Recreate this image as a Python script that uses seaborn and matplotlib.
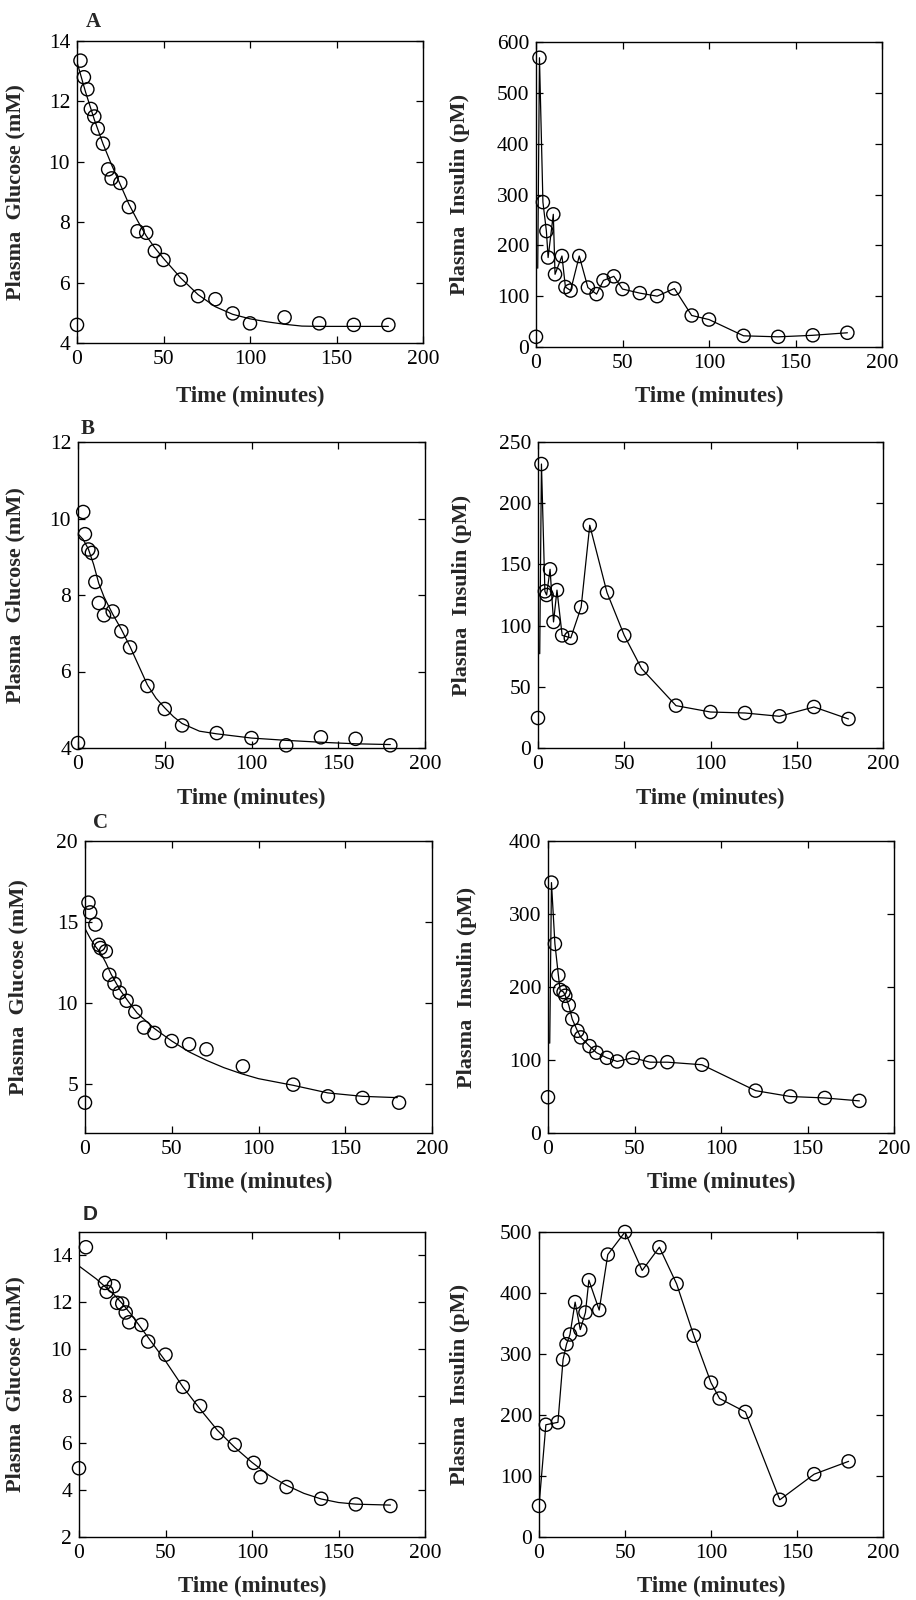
import matplotlib
matplotlib.use("Agg")
import matplotlib.pyplot as plt
import seaborn as sns

W, H = 916, 1600

# ---- panel A ----
glu_a_t = [0, 2, 4, 6, 8, 10, 12, 15, 18, 20, 25, 30, 35, 40, 45, 50, 60, 70, 80, 90, 100, 120, 140, 160, 180]
glu_a = [4.6, 13.35, 12.8, 12.4, 11.75, 11.5, 11.1, 10.6, 9.75, 9.45, 9.3, 8.5, 7.7, 7.65, 7.05, 6.75,
         6.1, 5.55, 5.45, 4.98, 4.65, 4.85, 4.65, 4.6, 4.6]
fit_a_t = [0, 2, 5, 10, 15, 20, 25, 30, 35, 40, 45, 50, 60, 70, 80, 90, 100, 110, 120, 130, 140, 160, 180]
fit_a = [13.3, 12.9, 12.3, 11.4, 10.6, 9.9, 9.25, 8.6, 8.05, 7.55, 7.15, 6.8, 6.15, 5.6, 5.2, 4.95,
         4.8, 4.7, 4.62, 4.56, 4.55, 4.55, 4.55]
ins_a_t = [0, 2, 4, 6, 7, 10, 11, 15, 17, 20, 25, 30, 35, 39, 45, 50, 60, 70, 80, 90, 100, 120, 140, 160, 180]
ins_a = [20, 569, 285, 228, 176, 261, 143, 179, 118, 111, 179, 117, 104, 131, 139, 114, 106, 100, 115,
         62, 54, 22, 20, 23, 28]
ins_a_start = (1, 155)

# ---- panel B ----
glu_b_t = [0, 3, 4, 6, 8, 10, 12, 15, 20, 25, 30, 40, 50, 60, 80, 100, 120, 140, 160, 180]
glu_b = [4.13, 10.17, 9.59, 9.19, 9.1, 8.34, 7.79, 7.47, 7.57, 7.05, 6.63, 5.62, 5.02, 4.59, 4.39,
         4.26, 4.07, 4.28, 4.24, 4.07]
fit_b_t = [0, 3, 6, 9, 12, 15, 20, 25, 30, 35, 40, 45, 50, 55, 60, 70, 80, 100, 120, 140, 160, 180]
fit_b = [9.6, 9.45, 9.2, 8.8, 8.3, 7.95, 7.5, 7.1, 6.65, 6.15, 5.65, 5.3, 5.05, 4.82, 4.64, 4.44,
         4.37, 4.26, 4.2, 4.15, 4.11, 4.09]
ins_b_t = [0, 2, 4, 5, 7, 9, 11, 14, 19, 25, 30, 40, 50, 60, 80, 100, 120, 140, 160, 180]
ins_b = [24.5, 232, 128, 125, 146, 103, 129, 92, 90, 115, 182, 127, 92, 65, 34.6, 29.4, 28.6, 25.9,
         33.5, 23.7]
ins_b_start = (1, 77)

# ---- panel C ----
glu_c_t = [0, 2, 3, 6, 8, 9, 12, 14, 17, 20, 24, 29, 34, 40, 50, 60, 70, 91, 120, 140, 160, 181]
glu_c = [3.87, 16.2, 15.6, 14.85, 13.6, 13.4, 13.2, 11.75, 11.2, 10.65, 10.15, 9.47, 8.5, 8.17, 7.67,
         7.47, 7.16, 6.11, 4.98, 4.26, 4.16, 3.87]
fit_c_t = [0, 3, 6, 9, 12, 15, 20, 25, 30, 40, 50, 60, 70, 80, 90, 100, 120, 140, 160, 180]
fit_c = [14.6, 14.0, 13.5, 13.1, 12.5, 11.8, 10.85, 10.1, 9.4, 8.44, 7.67, 7.0, 6.48, 6.03, 5.66,
         5.35, 4.94, 4.47, 4.26, 4.18]
ins_c_t = [0, 2, 4, 6, 7, 9, 10, 12, 14, 17, 19, 24, 28, 34, 40, 49, 59, 69, 89, 120, 140, 160, 180]
ins_c = [49, 343, 259, 216, 196, 193, 188, 175, 156, 140, 131, 119, 110, 103, 98, 103, 97, 97, 93.5,
         58, 50, 48, 44]
ins_c_start = (1, 123)

# ---- panel D ----
glu_d_t = [0, 4, 15, 16, 20, 22, 25, 27, 29, 36, 40, 50, 60, 70, 80, 90, 101, 105, 120, 140, 160, 180]
glu_d = [4.93, 14.35, 12.83, 12.45, 12.69, 11.98, 11.95, 11.57, 11.15, 11.04, 10.33, 9.77, 8.4, 7.58,
         6.43, 5.93, 5.16, 4.55, 4.13, 3.63, 3.39, 3.32]
fit_d_t = [0, 10, 20, 25, 30, 40, 50, 60, 70, 80, 90, 100, 110, 120, 130, 140, 150, 160, 180]
fit_d = [13.55, 13.0, 12.35, 11.95, 11.5, 10.5, 9.5, 8.4, 7.45, 6.55, 5.82, 5.18, 4.62, 4.2, 3.86,
         3.62, 3.47, 3.4, 3.36]
ins_d_t = [0, 4, 11, 14, 16, 18, 21, 24, 27, 29, 35, 40, 50, 60, 70, 80, 90, 100, 105, 120, 140, 160, 180]
ins_d = [51, 184, 188, 291, 316, 332, 385, 340, 368, 421, 372, 463, 500, 437, 475, 415, 330, 253, 227,
         205, 61, 103, 124]

LETTERS = ["A", "B", "C", "D"]

# axes boxes in pixels: left, top, right, bottom
BOX_L = [(77, 41, 423, 343), (78, 442, 425, 748), (85, 841, 432, 1133), (79, 1232, 425, 1537)]
BOX_R = [(536, 42, 882, 347), (538, 442, 883, 748), (548, 841, 894, 1133), (539, 1232, 883, 1537)]
YLIM_L = [(4, 14), (4, 12), (2, 20), (2, 15)]
YTICK_L = [[4, 6, 8, 10, 12, 14], [4, 6, 8, 10, 12], [5, 10, 15, 20], [2, 4, 6, 8, 10, 12, 14]]
YLIM_R = [(0, 600), (0, 250), (0, 400), (0, 500)]
YTICK_R = [range(0, 601, 100), range(0, 251, 50), range(0, 401, 100), range(0, 501, 100)]
YLAB_X_L = [25, 25, 28, 25]
YLAB_X_R = [470, 472, 477, 470]
XLAB_TOP = [386, 788, 1172, 1576]
LETTER_POS = [(93, 22), (88, 429), (100, 823), (90, 1215)]

sns.set_style("ticks")
plt.rcParams["font.family"] = ["Liberation Serif", "DejaVu Serif"]

fig = plt.figure(figsize=(W / 100, H / 100), dpi=100)


def make_ax(box):
    l, t, r, b = box
    return fig.add_axes([l / W, 1 - b / H, (r - l) / W, (b - t) / H])


def style(ax, ylim, yticks, ylabel, ylab_x, xlab_top, box):
    l, t, r, b = box
    ax.set_xlim(0, 200)
    ax.set_ylim(*ylim)
    ax.set_xticks(range(0, 201, 50))
    ax.set_yticks(list(yticks))
    ax.tick_params(direction="in", top=True, right=True, length=5, width=0.9,
                   labelsize=15.5, pad=5, colors="black")
    for s in ax.spines.values():
        s.set_color("black")
        s.set_linewidth(1.0)
    ax.set_ylabel(ylabel, fontsize=16, fontweight="bold")
    ax.set_xlabel("Time (minutes)", fontsize=16.5, fontweight="bold")
    ax.yaxis.set_label_coords((ylab_x - l) / (r - l), 0.5)
    ax.xaxis.set_label_coords(0.5, -(xlab_top - b) / (b - t))


def markers(ax, t, y):
    sns.scatterplot(x=t, y=y, ax=ax, marker="o", s=90, facecolor="none",
                    edgecolor="black", linewidth=1.0, clip_on=False, zorder=3)


glucose = [(glu_a_t, glu_a, fit_a_t, fit_a), (glu_b_t, glu_b, fit_b_t, fit_b),
           (glu_c_t, glu_c, fit_c_t, fit_c), (glu_d_t, glu_d, fit_d_t, fit_d)]
insulin = [(ins_a_t, ins_a, ins_a_start), (ins_b_t, ins_b, ins_b_start),
           (ins_c_t, ins_c, ins_c_start), (ins_d_t, ins_d, None)]

for i in range(4):
    # glucose with model fit
    ax = make_ax(BOX_L[i])
    gt, gy, ft, fy = glucose[i]
    sns.lineplot(x=ft, y=fy, ax=ax, color="black", linewidth=0.9,
                 estimator=None, sort=False)
    markers(ax, gt, gy)
    style(ax, YLIM_L[i], YTICK_L[i], "Plasma  Glucose (mM)", YLAB_X_L[i], XLAB_TOP[i], BOX_L[i])

    # insulin, points joined
    ax = make_ax(BOX_R[i])
    it, iy, start = insulin[i]
    if start is None:
        lt, ly = it, iy
    else:
        lt, ly = [start[0]] + it[1:], [start[1]] + iy[1:]
    sns.lineplot(x=lt, y=ly, ax=ax, color="black", linewidth=0.9,
                 estimator=None, sort=False)
    markers(ax, it, iy)
    style(ax, YLIM_R[i], YTICK_R[i], "Plasma  Insulin (pM)", YLAB_X_R[i], XLAB_TOP[i], BOX_R[i])

for i, (x, y) in enumerate(LETTER_POS):
    fam = ["Liberation Sans", "DejaVu Sans"] if LETTERS[i] == "D" else ["Liberation Serif", "DejaVu Serif"]
    fig.text(x / W, 1 - y / H, LETTERS[i], fontsize=15, fontweight="bold",
             family=fam, ha="center", va="center")

fig.savefig("out.png", dpi=100, facecolor="white")
